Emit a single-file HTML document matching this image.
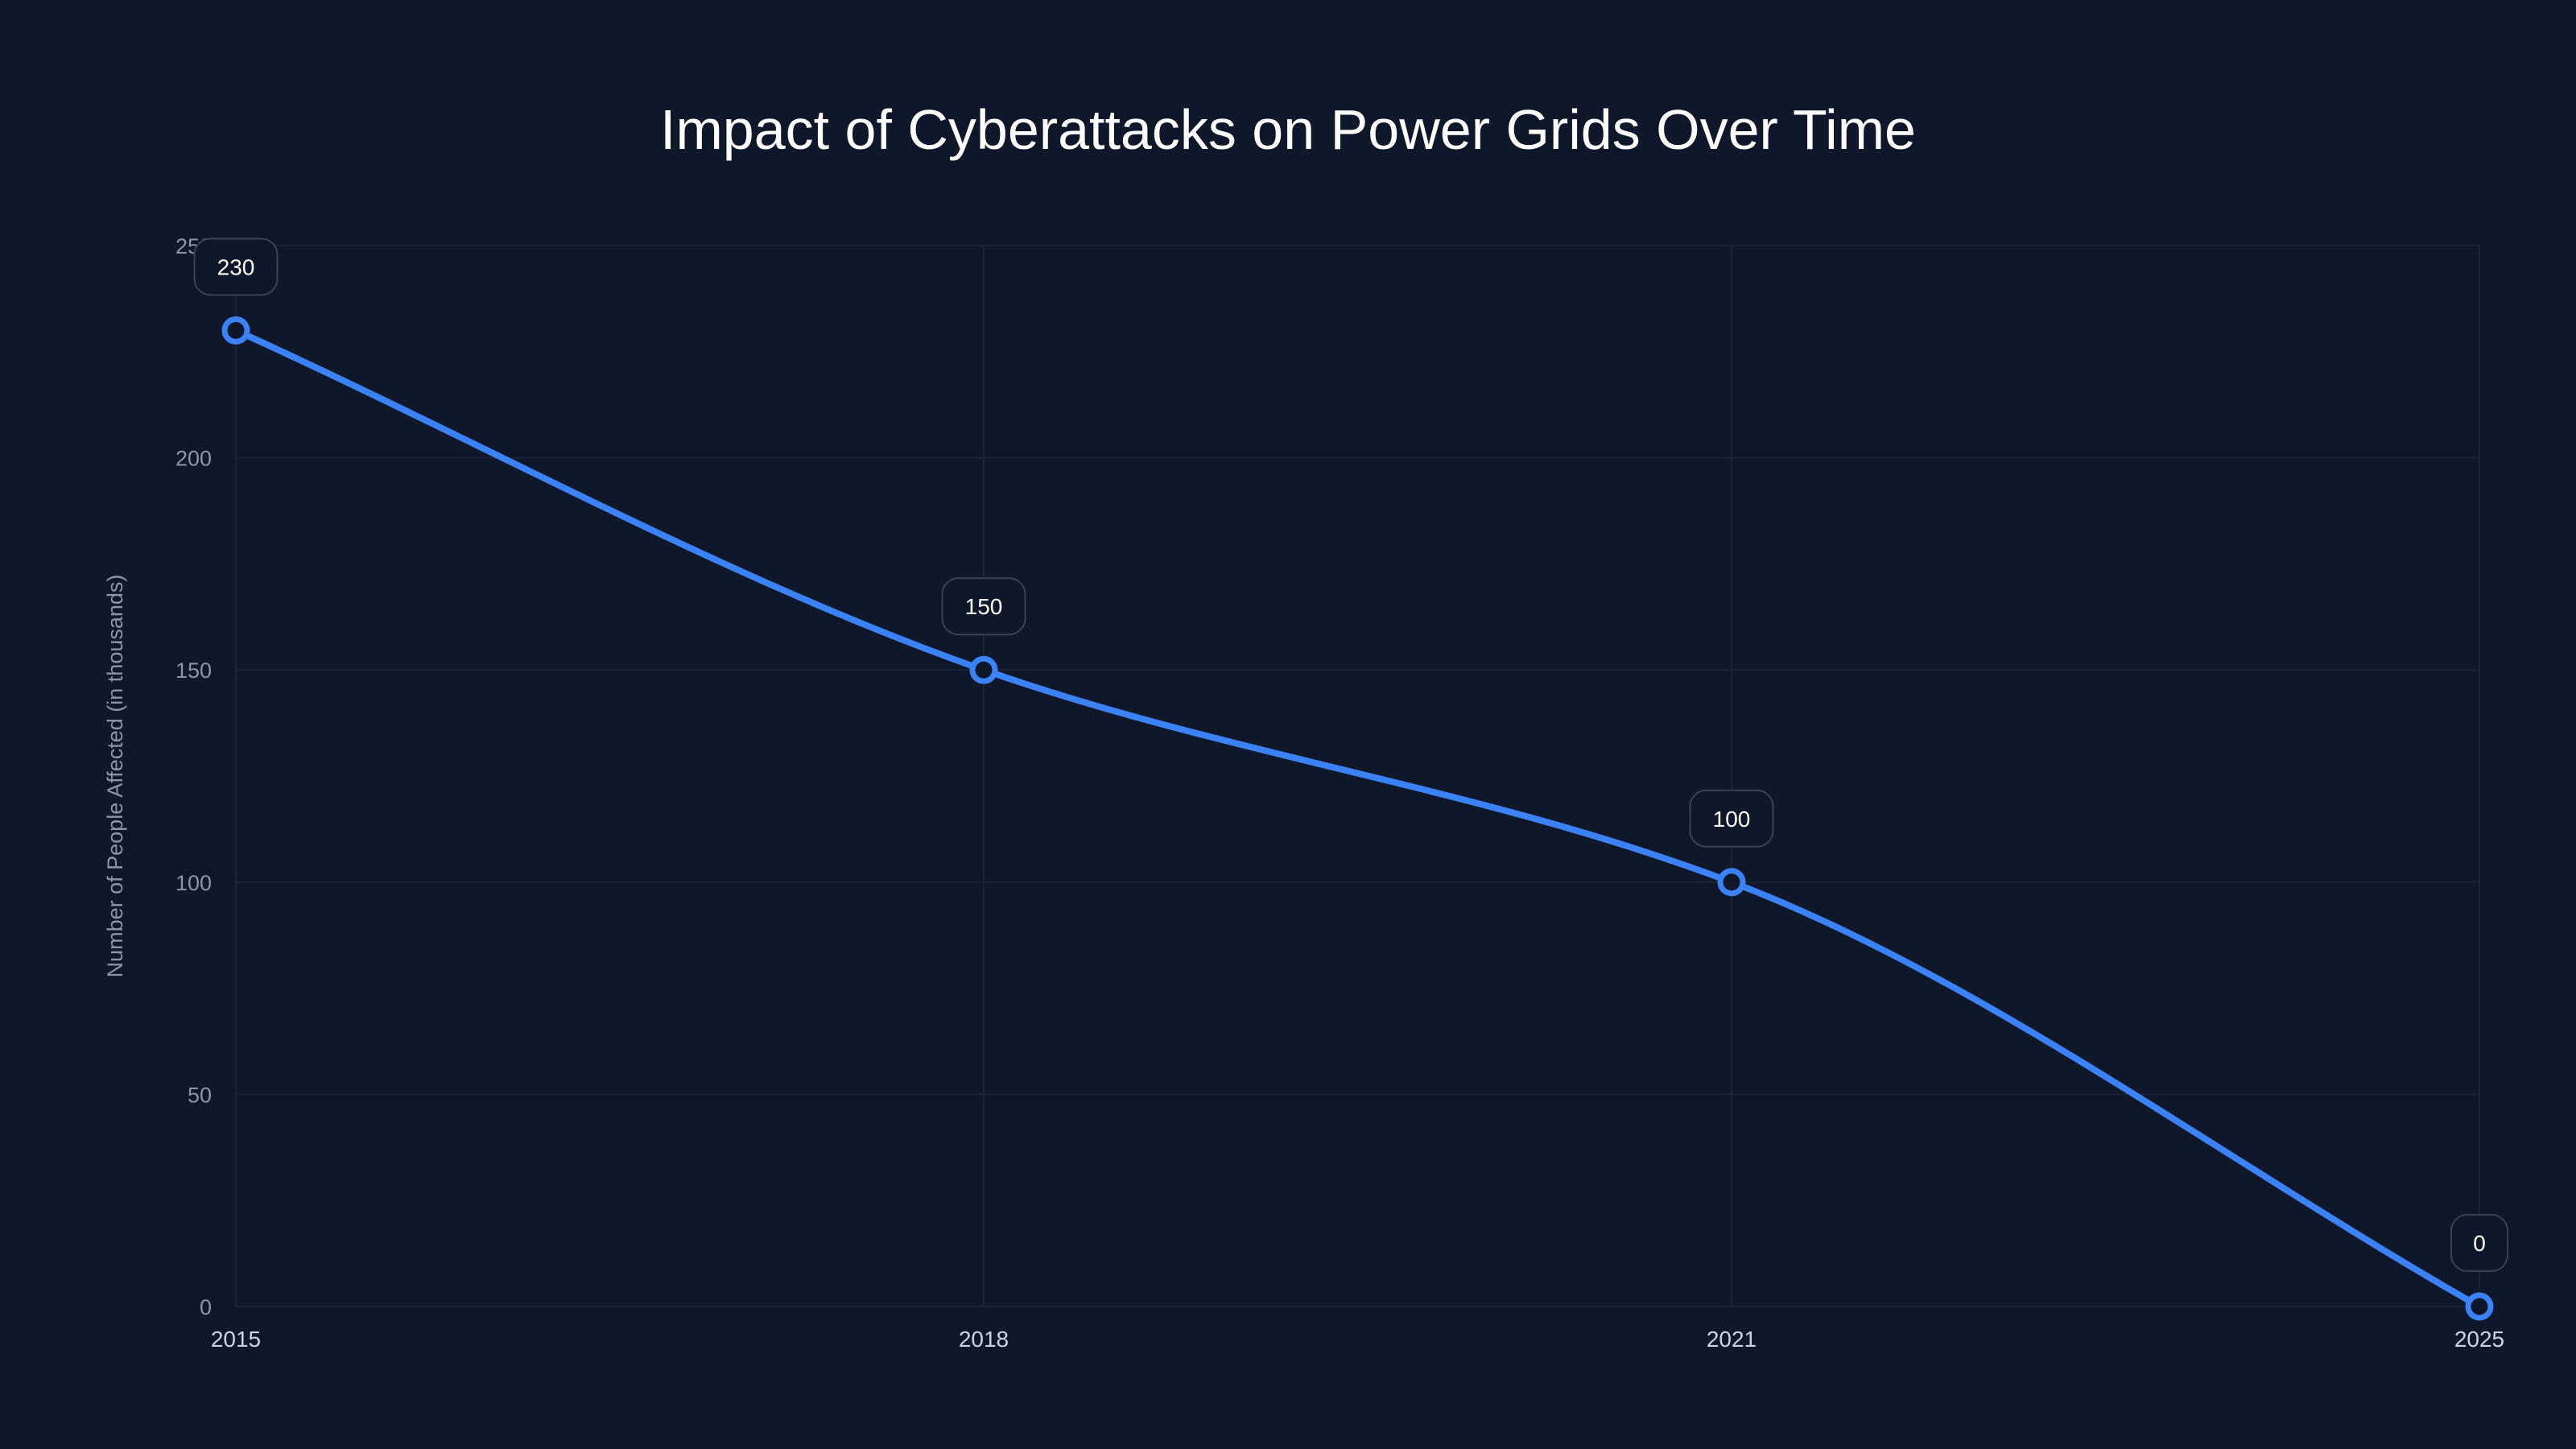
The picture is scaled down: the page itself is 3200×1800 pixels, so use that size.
<!DOCTYPE html>
<html><head><meta charset="utf-8">
<style>
html,body{margin:0;padding:0;background:#0f172a;}
svg{display:block;font-family:"Liberation Sans",sans-serif;}
</style></head>
<body>
<svg id="chart" width="3200" height="1800" viewBox="0 0 3200 1800">
<rect width="3200" height="1800" fill="#0f172a"/>
<text x="1600" y="185" text-anchor="middle" font-size="70" fill="#ffffff">Impact of Cyberattacks on Power Grids Over Time</text>
<text transform="translate(152,964) rotate(-90)" text-anchor="middle" font-size="27" fill="#8b95a7">Number of People Affected (in thousands)</text>
<g id="grid"></g><g id="ticks"></g><g id="series"></g><g id="labels"></g>
</svg>
<script>
const categories=["2015","2018","2021","2025"];
const values=[230,150,100,0];
const yTicks=[0,50,100,150,200,250];
const L=293,R=3080,T=305,B=1623,yMax=250;
const NS="http://www.w3.org/2000/svg";
function xs(i){return L+(R-L)*i/(categories.length-1);}
function ys(v){return B-(B-T)*v/yMax;}
function mk(tag,attrs,parent){const e=document.createElementNS(NS,tag);for(const k in attrs)e.setAttribute(k,attrs[k]);parent.appendChild(e);return e;}
const grid=document.getElementById('grid'),ticks=document.getElementById('ticks'),series=document.getElementById('series'),labels=document.getElementById('labels');
yTicks.forEach(t=>{
  const l=mk('line',{x1:L,x2:R,y1:ys(t),y2:ys(t),stroke:'#1a2436','stroke-width':2},grid);
  
  
  const tx=mk('text',{x:263,y:ys(t)+10,'text-anchor':'end','font-size':27,fill:'#8b95a7'},ticks);
  tx.textContent=t;
  
  
});
categories.forEach((c,i)=>{
  const l=mk('line',{x1:xs(i),x2:xs(i),y1:T,y2:B,stroke:'#1a2436','stroke-width':2},grid);
  
  
  const tx=mk('text',{x:xs(i),y:1673,'text-anchor':'middle','font-size':28,fill:'#cbd5e1'},ticks);
  tx.textContent=c;
  
  
});
const px=values.map((v,i)=>xs(i)),py=values.map(v=>ys(v));
const n=px.length,d=[],m=[];
for(let i=0;i<n-1;i++)d.push((py[i+1]-py[i])/(px[i+1]-px[i]));
m[0]=d[0];m[n-1]=d[n-2];
for(let i=1;i<n-1;i++){m[i]=d[i-1]*d[i]<=0?0:(2/(1/d[i-1]+1/d[i]));}
let p='M'+px[0]+','+py[0];
for(let i=0;i<n-1;i++){const h=(px[i+1]-px[i])/3;p+=' C'+(px[i]+h)+','+(py[i]+m[i]*h)+' '+(px[i+1]-h)+','+(py[i+1]-m[i+1]*h)+' '+px[i+1]+','+py[i+1];}
const path=mk('path',{d:p,fill:'none',stroke:'#3b82f6','stroke-width':8,'stroke-linejoin':'round'},series);


values.forEach((v,i)=>{
  const c=mk('circle',{cx:xs(i),cy:ys(v),r:14,fill:'#0f172a',stroke:'#3b82f6','stroke-width':7},series);
  
  
  const s=String(v),w=Math.max(70,s.length*17+52);
  const g=mk('g',{},labels);
  
  
  mk('rect',{x:xs(i)-w/2,y:ys(v)-114,width:w,height:70,rx:20,fill:'#0f172a',stroke:'#3a4252','stroke-width':2},g);
  const t=mk('text',{x:xs(i),y:ys(v)-69,'text-anchor':'middle','font-size':28,fill:'#ffffff'},g);
  t.textContent=s;
});
</script>
</body></html>
